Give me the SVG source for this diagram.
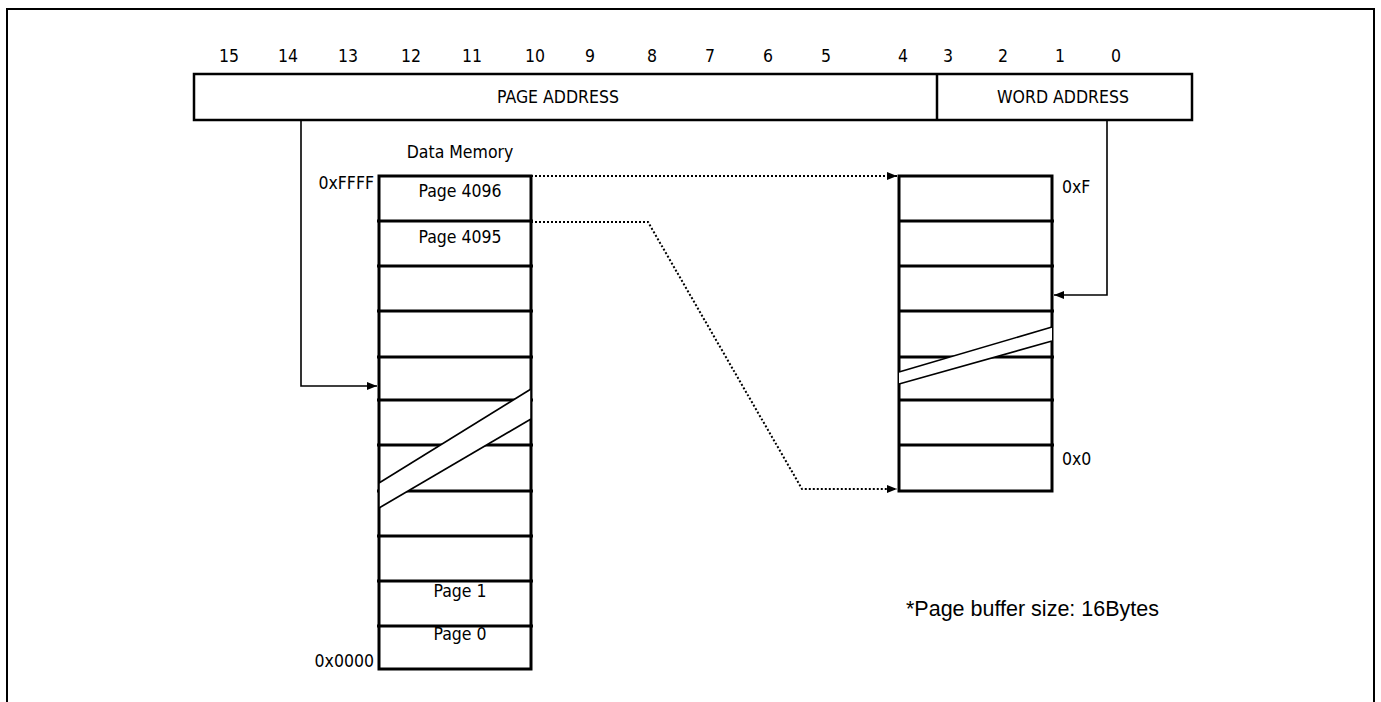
<svg xmlns="http://www.w3.org/2000/svg" width="1381" height="702" viewBox="0 0 1381 702">
<defs>
<style>
.t{font-family:"DejaVu Sans Condensed","DejaVu Sans",sans-serif;font-size:17.5px;fill:#000;font-stretch:condensed}
.a{font-family:"Liberation Sans",Arial,sans-serif;font-size:21.5px;fill:#000}
.col{fill:#fff;stroke:#000;stroke-width:3}
.row{stroke:#000;stroke-width:3}
.thin{stroke:#000;stroke-width:1.6;fill:none}
.dot{stroke:#000;stroke-width:2;fill:none;stroke-dasharray:2 2}
</style>
<marker id="ah" viewBox="0 0 10 10" refX="10" refY="5" markerWidth="10" markerHeight="10" markerUnits="userSpaceOnUse" orient="auto">
<path d="M0,1 L10,5 L0,9 Z" fill="#000"/>
</marker>
</defs>
<rect x="7" y="9" width="1367" height="800" fill="none" stroke="#000" stroke-width="2"/>

<g id="bits" text-anchor="middle">
<text x="229" y="62" class="t">15</text>
<text x="288" y="62" class="t">14</text>
<text x="348" y="62" class="t">13</text>
<text x="411" y="62" class="t">12</text>
<text x="472" y="62" class="t">11</text>
<text x="535" y="62" class="t">10</text>
<text x="590" y="62" class="t">9</text>
<text x="652" y="62" class="t">8</text>
<text x="710" y="62" class="t">7</text>
<text x="768" y="62" class="t">6</text>
<text x="826" y="62" class="t">5</text>
<text x="903" y="62" class="t">4</text>
<text x="948" y="62" class="t">3</text>
<text x="1003" y="62" class="t">2</text>
<text x="1060" y="62" class="t">1</text>
<text x="1116" y="62" class="t">0</text>
</g>

<g id="register">
<rect x="194" y="74" width="998" height="46" fill="#fff" stroke="#000" stroke-width="2.5"/>
<line x1="937" y1="74" x2="937" y2="120" stroke="#000" stroke-width="2.5"/>
<text x="558" y="103" class="t" text-anchor="middle">PAGE ADDRESS</text>
<text x="1063" y="103" class="t" text-anchor="middle">WORD ADDRESS</text>
</g>

<g id="data-memory">
<text x="460" y="158" class="t" text-anchor="middle">Data Memory</text>
<text x="374" y="189" class="t" text-anchor="end">0xFFFF</text>
<text x="374" y="667" class="t" text-anchor="end">0x0000</text>
<rect x="379" y="176" width="152" height="493" class="col"/>
<g class="row">
<line x1="377" y1="221" x2="533" y2="221"/>
<line x1="377" y1="266" x2="533" y2="266"/>
<line x1="377" y1="311" x2="533" y2="311"/>
<line x1="377" y1="357" x2="533" y2="357"/>
<line x1="377" y1="400" x2="533" y2="400"/>
<line x1="377" y1="445" x2="533" y2="445"/>
<line x1="377" y1="491" x2="533" y2="491"/>
<line x1="377" y1="536" x2="533" y2="536"/>
<line x1="377" y1="581" x2="533" y2="581"/>
<line x1="377" y1="626" x2="533" y2="626"/>
</g>
<polygon points="379,483 531,389 531,419 379,508" fill="#fff"/>
<line x1="379" y1="483" x2="531" y2="389" class="thin"/>
<line x1="379" y1="508" x2="531" y2="419" class="thin"/>
<line x1="531" y1="389" x2="531" y2="419" class="thin"/>
<line x1="379" y1="483" x2="379" y2="508" class="thin"/>
<text x="460" y="197" class="t" text-anchor="middle">Page 4096</text>
<text x="460" y="243" class="t" text-anchor="middle">Page 4095</text>
<text x="460" y="597" class="t" text-anchor="middle">Page 1</text>
<text x="460" y="640" class="t" text-anchor="middle">Page 0</text>
</g>

<g id="page-buffer">
<rect x="899" y="176" width="153" height="315" class="col"/>
<g class="row">
<line x1="899" y1="221" x2="1054" y2="221"/>
<line x1="899" y1="266" x2="1054" y2="266"/>
<line x1="899" y1="311" x2="1054" y2="311"/>
<line x1="899" y1="357" x2="1054" y2="357"/>
<line x1="899" y1="400" x2="1054" y2="400"/>
<line x1="899" y1="445" x2="1054" y2="445"/>
</g>
<polygon points="899,372 1052,327 1052,341 899,384" fill="#fff"/>
<line x1="899" y1="372" x2="1052" y2="327" class="thin"/>
<line x1="899" y1="384" x2="1052" y2="341" class="thin"/>
<text x="1062" y="193" class="t">0xF</text>
<text x="1062" y="465" class="t">0x0</text>
</g>

<g id="note">
<text x="906" y="616" class="a">*Page buffer size: 16Bytes</text>
</g>

<g id="connectors">
<polyline points="301,120 301,386 377,386" class="thin" marker-end="url(#ah)"/>
<polyline points="1107,120 1107,295 1054,295" class="thin" marker-end="url(#ah)"/>
<polyline points="531,176 897,176" class="dot" marker-end="url(#ah)"/>
<polyline points="531,222 648,222 802,489 897,489" class="dot" marker-end="url(#ah)"/>
</g>
</svg>
